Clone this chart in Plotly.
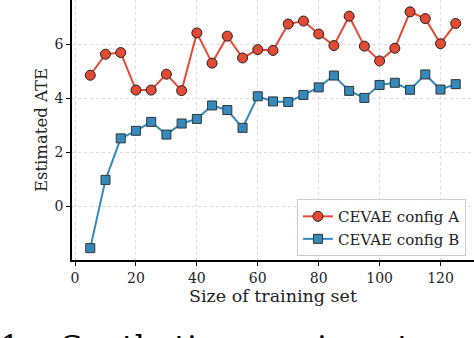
import plotly.graph_objects as go

train_sizes = [5, 10, 15, 20, 25, 30, 35, 40, 45, 50, 55, 60, 65, 70, 75, 80, 85, 90, 95, 100, 105, 110, 115, 120, 125]
config_a = [4.85, 5.63, 5.69, 4.30, 4.30, 4.89, 4.28, 6.42, 5.30, 6.30, 5.49, 5.80, 5.77, 6.75, 6.86, 6.38, 5.95, 7.04, 5.93, 5.38, 5.85, 7.20, 6.95, 6.02, 6.77]
config_b = [-1.56, 0.97, 2.51, 2.79, 3.12, 2.65, 3.06, 3.23, 3.73, 3.56, 2.90, 4.07, 3.88, 3.86, 4.12, 4.40, 4.84, 4.27, 4.01, 4.49, 4.57, 4.31, 4.88, 4.32, 4.52]
x_ticks = [0, 20, 40, 60, 80, 100, 120]
y_ticks = [0, 2, 4, 6]

FONT = "DejaVu Serif"

fig = go.Figure()
fig.add_trace(go.Scatter(
    x=train_sizes, y=config_a, mode="lines+markers", name="CEVAE config A",
    line=dict(color="#E24A33", width=2),
    marker=dict(symbol="circle", size=10, color="#E24A33", line=dict(color="#222222", width=1)),
    cliponaxis=False,
))
fig.add_trace(go.Scatter(
    x=train_sizes, y=config_b, mode="lines+markers", name="CEVAE config B",
    line=dict(color="#348ABD", width=2),
    marker=dict(symbol="square", size=9, color="#348ABD", line=dict(color="#333333", width=1)),
    cliponaxis=False,
))

axis_common = dict(
    showgrid=True, gridcolor="#dcdcdc", griddash="dot", gridwidth=1,
    zeroline=False, showline=True, linecolor="black", linewidth=1.5,
    ticks="outside", ticklen=4, tickwidth=1, tickcolor="black",
    tickfont=dict(family=FONT, size=14, color="#222222"),
)

fig.update_layout(
    width=474, height=338,
    margin=dict(l=72, r=0, t=0, b=78, autoexpand=False),
    paper_bgcolor="white", plot_bgcolor="white",
    font=dict(family=FONT, color="#222222"),
    xaxis=dict(range=[-1, 131], tickvals=x_ticks,
               title=dict(text="Size of training set", font=dict(family=FONT, size=17.5), standoff=3),
               **axis_common),
    yaxis=dict(range=[-2.0, 7.64], tickvals=y_ticks,
               title=dict(text="Estimated ATE", font=dict(family=FONT, size=16.5), standoff=3),
               **axis_common),
    legend=dict(x=0.98, y=0.015, xanchor="right", yanchor="bottom",
                bgcolor="rgba(255,255,255,0.8)", bordercolor="#cccccc", borderwidth=1,
                font=dict(family=FONT, size=15), itemwidth=30, tracegroupgap=0),
    showlegend=True,
)

fig.add_annotation(
    text="1.&nbsp;&nbsp;&nbsp;Synthetic experiment", xref="paper", yref="paper",
    x=-74/402, y=-(334 - 260 - 8)/260, xanchor="left", yanchor="top",
    showarrow=False, font=dict(family=FONT, size=32, color="black"),
)

fig.write_html("out.html", config={"displayModeBar": False},
               post_script="document.body.style.margin='0';")
